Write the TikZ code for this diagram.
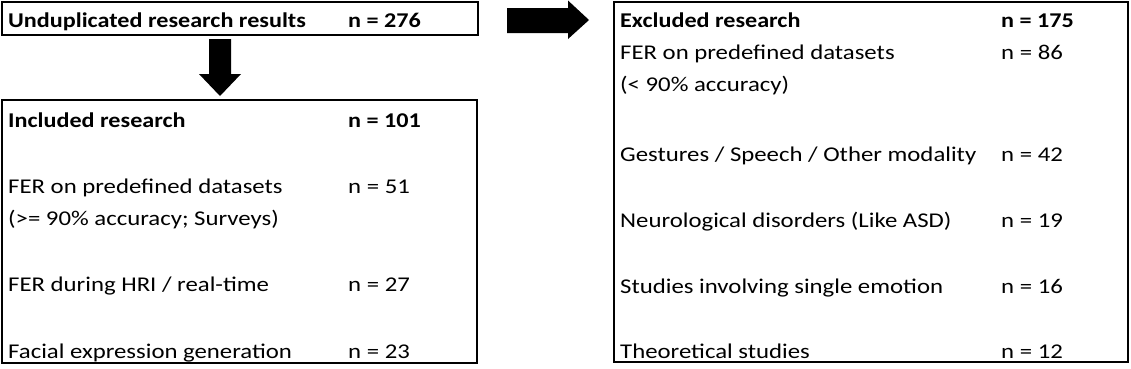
\documentclass[tikz,border=0pt]{standalone}
\usepackage{fontspec}
\setmainfont{Carlito}
\newcommand{\rtx}[1]{\scalebox{1.18}[1]{#1}}
\newcommand{\btx}[1]{\scalebox{1.15}[1]{\bfseries #1}}
\begin{document}
\begin{tikzpicture}[x=1pt,y=-1pt,
  box/.style={draw=black,line width=1.6pt,anchor=north west,inner sep=0pt,outer sep=0pt},
  txt/.style={anchor=base west,inner sep=0pt,font=\fontsize{21}{25}\selectfont},
  blockarrow/.style={fill=black,draw=none}]
\useasboundingbox (0,0) rectangle (1131,368);
\node[box,minimum width=476pt,minimum height=33pt] (dup) at (2,2) {};
\node[box,minimum width=475pt,minimum height=263pt] (inc) at (2,100) {};
\node[box,minimum width=514pt,minimum height=360pt] (exc) at (614,2) {};
% down arrow
\fill[blockarrow] (209,39) -- (231,39) -- (231,74) -- (241,74) -- (220,96) -- (199,74) -- (209,74) -- cycle;
% right arrow
\fill[blockarrow] (507,8) -- (568,8) -- (568,0.5) -- (589,20) -- (568,39) -- (568,33) -- (507,33) -- cycle;
% box 1
\node[txt] (t1) at (8,27) {\btx{Unduplicated research results}};
\node[txt] (n1) at (348,27) {\btx{n = 276}};
% box 2
\node[txt] (t2) at (8,127) {\btx{Included research}};
\node[txt] (n2) at (348,127) {\btx{n = 101}};
\node[txt] (t21) at (8,193) {\rtx{FER on predefined datasets}};
\node[txt] (n21) at (348,193) {\rtx{n = 51}};
\node[txt] (t21b) at (8,225) {\rtx{(>= 90\% accuracy; Surveys)}};
\node[txt] (t22) at (8,291) {\rtx{FER during HRI / real-time}};
\node[txt] (n22) at (348,291) {\rtx{n = 27}};
\node[txt] (t23) at (8,358) {\rtx{Facial expression generation}};
\node[txt] (n23) at (348,358) {\rtx{n = 23}};
% box 3
\node[txt] (t3) at (620,27) {\btx{Excluded research}};
\node[txt] (n3) at (1001,27) {\btx{n = 175}};
\node[txt] (t31) at (620,59) {\rtx{FER on predefined datasets}};
\node[txt] (n31) at (1001,59) {\rtx{n = 86}};
\node[txt] (t31b) at (620,91) {\rtx{(< 90\% accuracy)}};
\node[txt] (t32) at (620,161) {\rtx{Gestures / Speech / Other modality}};
\node[txt] (n32) at (1001,161) {\rtx{n = 42}};
\node[txt] (t33) at (620,227) {\rtx{Neurological disorders (Like ASD)}};
\node[txt] (n33) at (1001,227) {\rtx{n = 19}};
\node[txt] (t34) at (620,293) {\rtx{Studies involving single emotion}};
\node[txt] (n34) at (1001,293) {\rtx{n = 16}};
\node[txt] (t35) at (620,358) {\rtx{Theoretical studies}};
\node[txt] (n35) at (1001,358) {\rtx{n = 12}};
\end{tikzpicture}
\end{document}
